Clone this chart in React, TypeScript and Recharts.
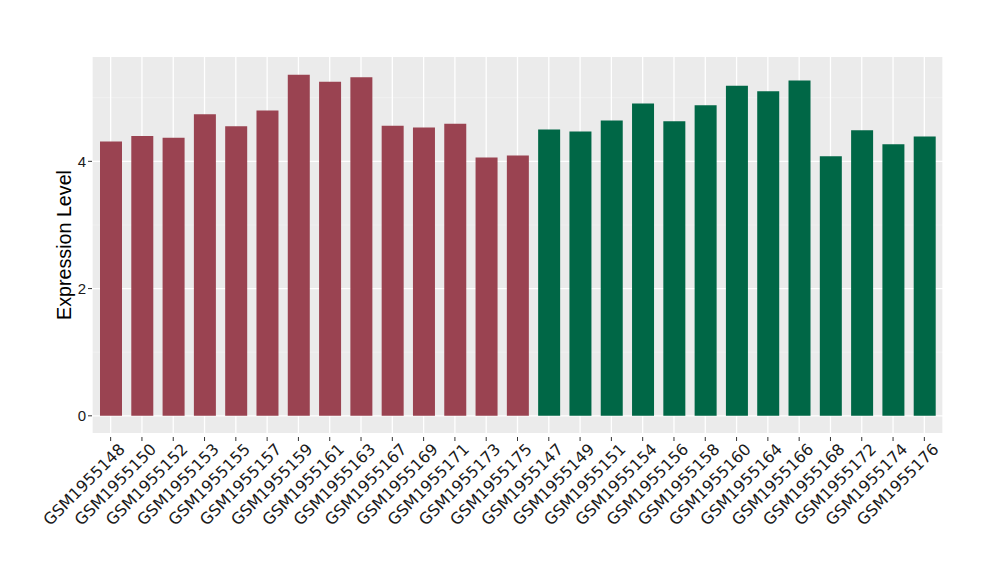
import { BarChart, Bar, XAxis, YAxis, CartesianGrid, Cell } from 'recharts'

const samples = [
  'GSM1955148', 'GSM1955150', 'GSM1955152', 'GSM1955153', 'GSM1955155',
  'GSM1955157', 'GSM1955159', 'GSM1955161', 'GSM1955163', 'GSM1955167',
  'GSM1955169', 'GSM1955171', 'GSM1955173', 'GSM1955175', 'GSM1955147',
  'GSM1955149', 'GSM1955151', 'GSM1955154', 'GSM1955156', 'GSM1955158',
  'GSM1955160', 'GSM1955164', 'GSM1955166', 'GSM1955168', 'GSM1955172',
  'GSM1955174', 'GSM1955176',
]

const expression = [
  4.31, 4.4, 4.37, 4.74, 4.55, 4.8, 5.36, 5.25, 5.32, 4.56, 4.53, 4.59, 4.06,
  4.09, 4.5, 4.47, 4.64, 4.91, 4.63, 4.88, 5.19, 5.1, 5.27, 4.08, 4.49, 4.27,
  4.39,
]

const groups = [
  'a', 'a', 'a', 'a', 'a', 'a', 'a', 'a', 'a', 'a', 'a', 'a', 'a', 'a',
  'b', 'b', 'b', 'b', 'b', 'b', 'b', 'b', 'b', 'b', 'b', 'b', 'b',
]

const yTicks = [0, 2, 4]
const minorTicks = [1, 3, 5]

const GROUP_COLORS: Record<string, string> = { a: '#9A4351', b: '#006746' }

const data = samples.map((s, i) => ({ sample: s, value: expression[i], group: groups[i] }))

const FONT = '"Liberation Sans", Arial, sans-serif'
const TICK_FONT = '"DejaVu Sans", sans-serif'

function XTick({ x, y, payload }: any) {
  const ax = x + 7
  const ay = y + 1
  return (
    <g>
      <line x1={x} x2={x} y1={y - 4} y2={y} stroke="#333" strokeWidth={1} />
      <text
        x={ax}
        y={ay}
        dy="0.74em"
        textAnchor="end"
        transform={`rotate(-45, ${ax}, ${ay})`}
        fontSize={16}
        fill="#1a1a1a"
        fontFamily={TICK_FONT}
      >
        {payload.value}
      </text>
    </g>
  )
}

export default function App() {
  return (
    <div style={{ position: 'absolute', left: 0, top: 0, background: '#fff' }}>
      <BarChart
        width={1000}
        height={580}
        data={data}
        margin={{ top: 57, right: 57, bottom: 0, left: 0 }}
      >
        <CartesianGrid
          stroke="#F4F4F4"
          strokeWidth={0.7}
          fill="#EBEBEB"
          fillOpacity={1}
          vertical={false}
          horizontalValues={minorTicks}
        />
        <CartesianGrid stroke="#FFFFFF" strokeWidth={1.3} horizontalValues={yTicks} />
        <XAxis
          dataKey="sample"
          interval={0}
          height={147}
          axisLine={false}
          tickLine={false}
          padding={{ left: 3, right: 3 }}
          tick={<XTick />}
        />
        <YAxis
          width={92}
          domain={[-0.27, 5.64]}
          allowDataOverflow
          ticks={yTicks}
          axisLine={false}
          tickLine={{ stroke: '#333' }}
          tickSize={4}
          tick={{ fill: '#1a1a1a', fontSize: 15, fontFamily: FONT }}
          label={{
            value: 'Expression Level',
            angle: -90,
            position: 'insideLeft',
            dx: 59,
            style: { fontSize: 19.7, fill: '#000', fontFamily: FONT, textAnchor: 'middle' },
          }}
        />
        <Bar dataKey="value" barSize={22} isAnimationActive={false}>
          {data.map((d, i) => (
            <Cell key={i} fill={GROUP_COLORS[d.group]} />
          ))}
        </Bar>
      </BarChart>
    </div>
  )
}
